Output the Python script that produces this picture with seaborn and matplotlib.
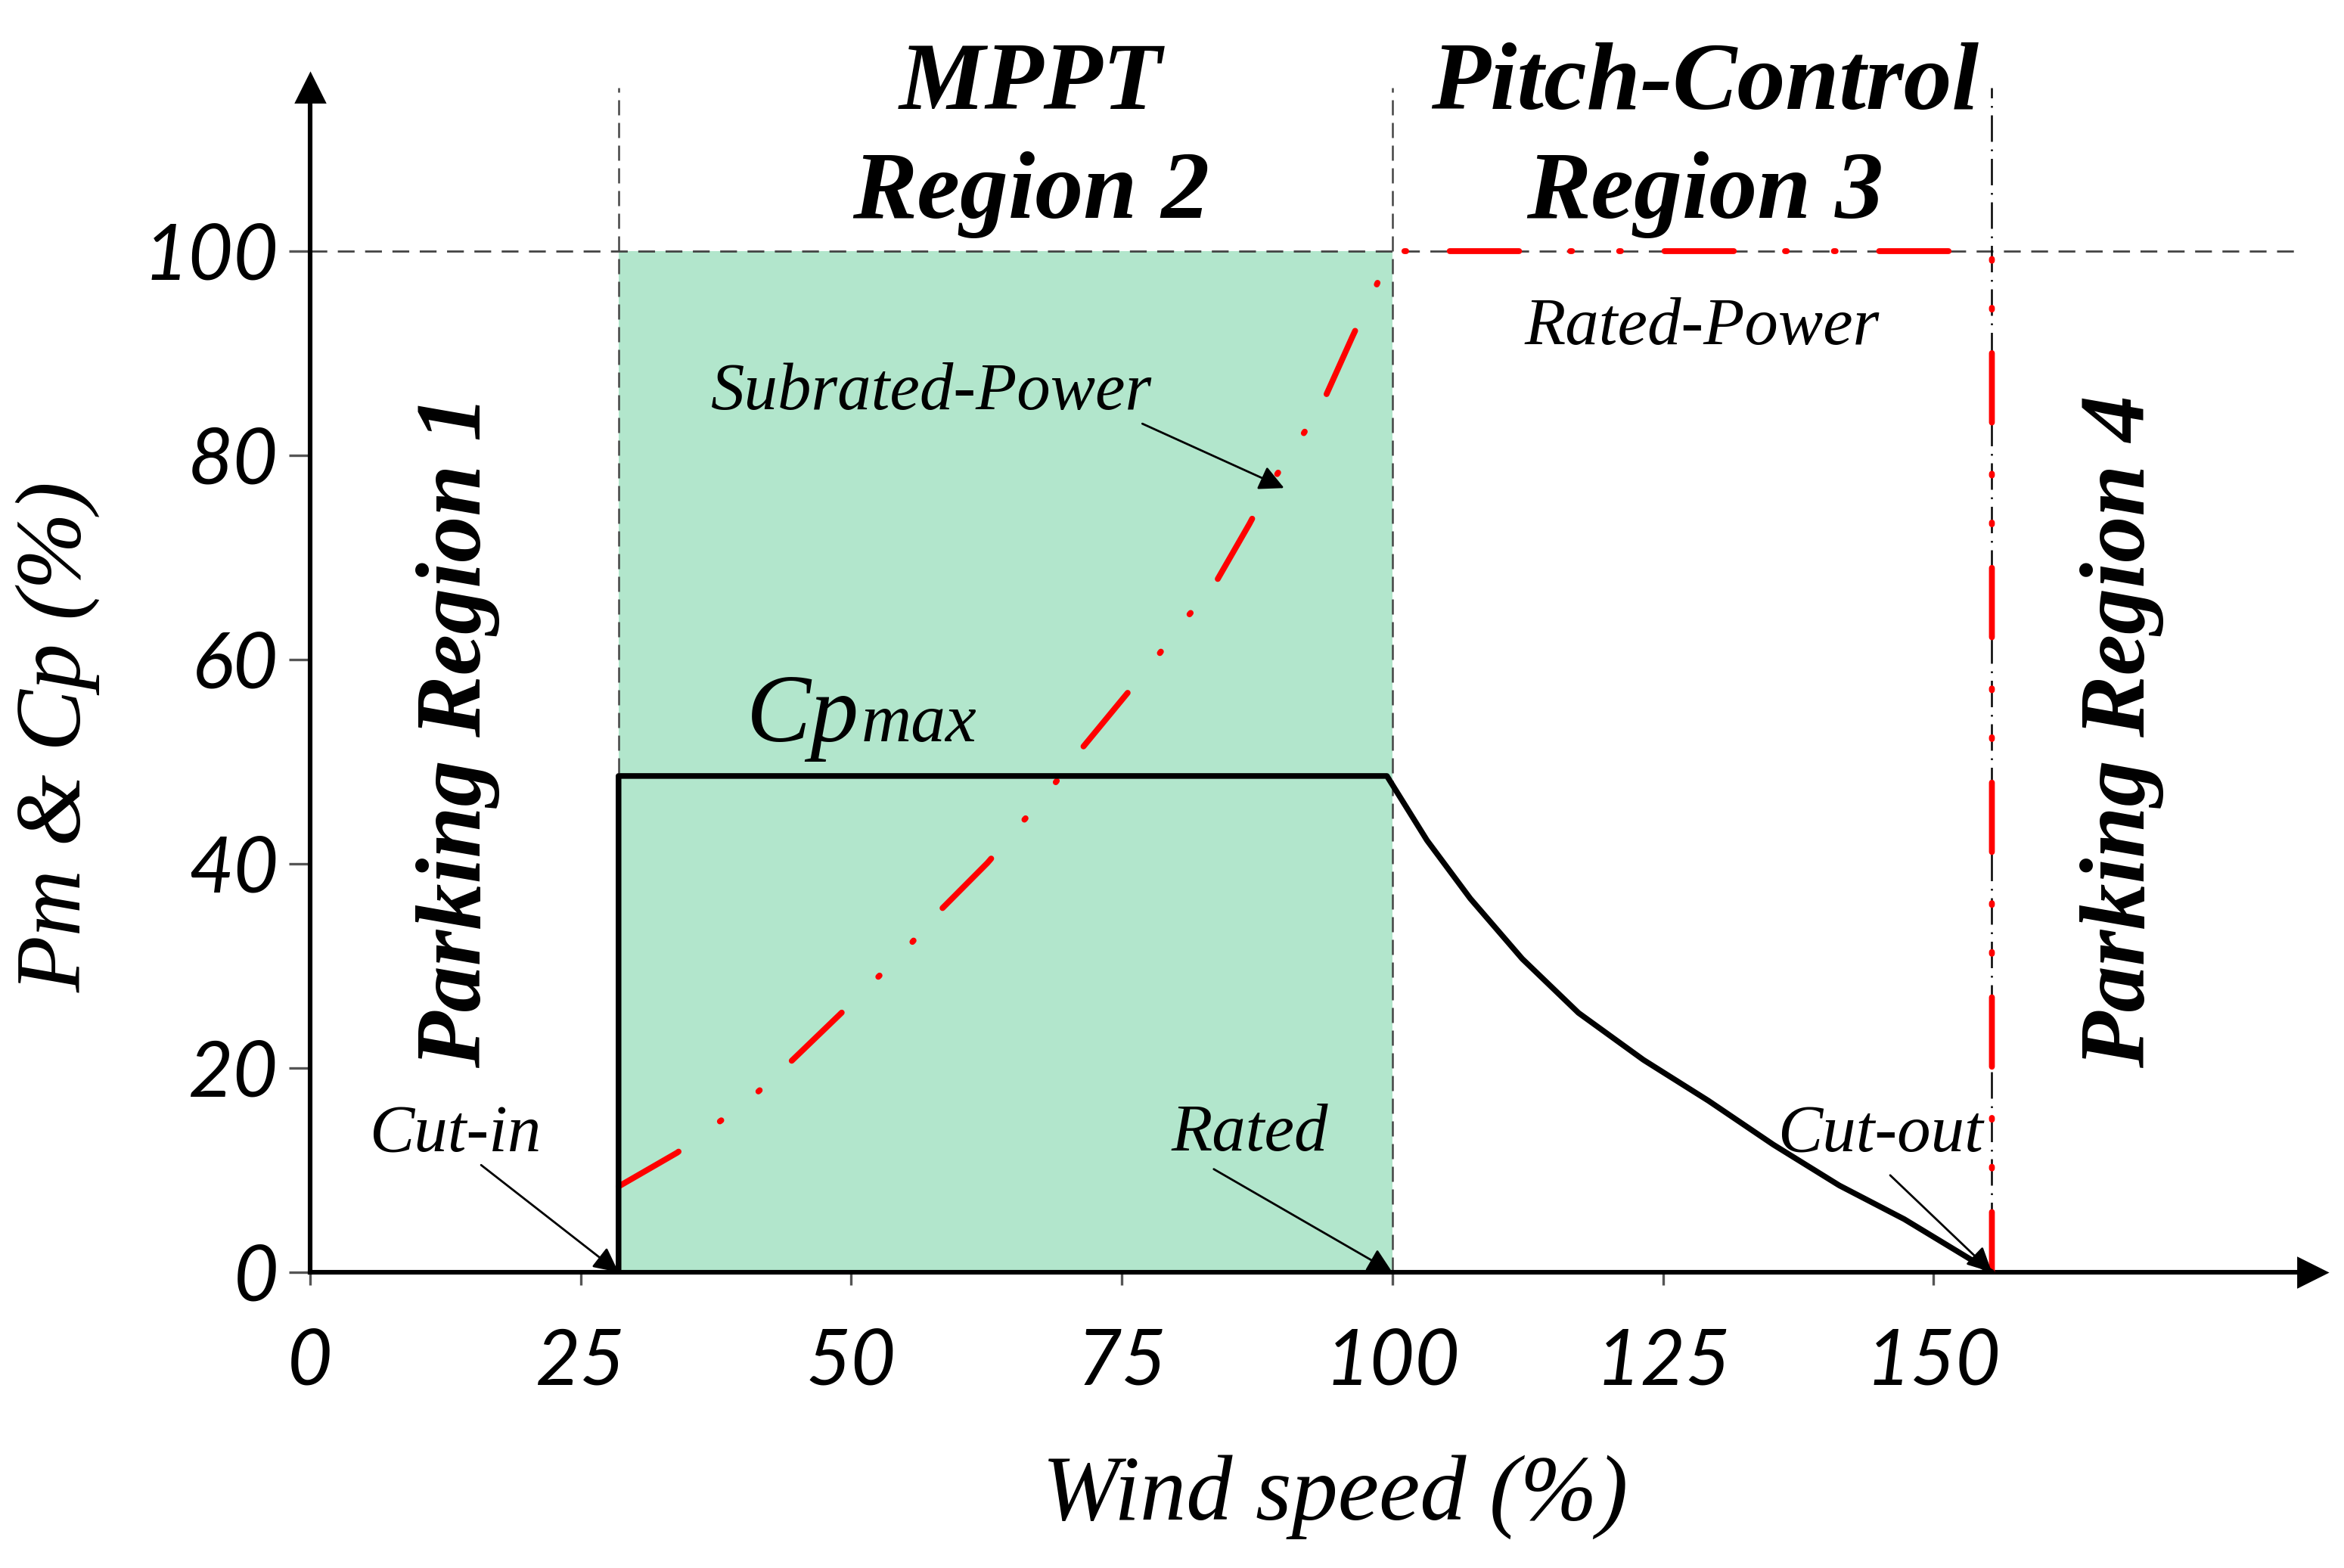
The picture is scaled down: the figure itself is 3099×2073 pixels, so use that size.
import numpy as np
import pandas as pd
import matplotlib
matplotlib.use("Agg")
import matplotlib.pyplot as plt
import seaborn as sns

# operating points (% of rated)
cut_in = 28.5
rated = 100
cut_out = 155.4
cp_max = 48.6
p_rated = 100

# mechanical power curve Pm (%)
pm_speed = [28.5, 33.9, 37.4, 41.0, 44.0, 48.9, 52.0, 55.2, 58.0, 62.6, 68.4, 71.0,
            75.2, 78.0, 80.6, 83.6, 86.8, 88.7, 91.3, 93.5, 96.3, 100, 155.4, 155.4]
pm_value = [8.4, 11.7, 14.4, 17.3, 20.2, 25.2, 28.4, 31.8, 35.2, 40.1, 47.3, 50.9,
            56.3, 59.9, 63.6, 67.4, 73.3, 77.1, 81.3, 85.0, 91.6, 100, 100, 0]

# power coefficient Cp (%)
cp_speed = [28.5, 28.5, 99.5, 103.2, 107.2, 112.0, 117.2, 123.2, 129.2,
            135.2, 141.3, 147.3, 155.4]
cp_value = [0, 48.6, 48.6, 42.3, 36.6, 30.7, 25.4, 20.8, 16.8,
            12.5, 8.5, 5.2, 0]

x_ticks = [0, 25, 50, 75, 100, 125, 150]
y_ticks = [0, 20, 40, 60, 80, 100]

sns.set_style("white")
plt.rcParams['font.family'] = ['Liberation Serif', 'DejaVu Serif']
plt.rcParams['text.color'] = 'black'
plt.rcParams['axes.labelcolor'] = 'black'
plt.rcParams['xtick.color'] = 'black'
plt.rcParams['ytick.color'] = 'black'

fig = plt.figure(figsize=(15.495, 10.365), dpi=200)
ax = fig.add_axes([410 / 3099, 391 / 2073, 2647 / 3099, 1566 / 2073])
ax.set_xlim(0, 185)
ax.set_ylim(0, 116)

# MPPT region shading
ax.fill_between([cut_in, rated], 0, p_rated, color='#b2e6cc', lw=0, zorder=0)

# guide lines
grey = '#444444'
ax.axhline(p_rated, xmin=0, xmax=183.8 / 185, color=grey, lw=1.0,
           dashes=(8, 5), zorder=1)
for xv in [cut_in, rated]:
    ax.axvline(xv, color=grey, lw=0.9, dashes=(8, 4), zorder=1)
ax.axvline(cut_out, color='black', lw=0.9, dashes=(14, 4, 1, 4), zorder=1)

# curves
sns.lineplot(x=cp_speed, y=cp_value, sort=False, estimator=None,
             color='black', lw=2.7, ax=ax, zorder=4)
ax.lines[-1].set_solid_joinstyle('round')
sns.lineplot(x=pm_speed, y=pm_value, sort=False, estimator=None,
             color='#ff0000', lw=2.8, ax=ax, zorder=3)
red = ax.lines[-1]
red.set_dashes([11.8, 8.7, 0.3, 8.0, 0.3, 7.4])
red.set_dash_capstyle('round')

# axes with arrow heads
sns.despine(ax=ax, top=True, right=True)
for side in ['left', 'bottom']:
    ax.spines[side].set_linewidth(2.2)
    ax.spines[side].set_color('black')
ax.plot(1, 0, '>k', ms=14, transform=ax.get_yaxis_transform(), clip_on=False)
ax.plot(0, 1, '^k', ms=14, transform=ax.get_xaxis_transform(), clip_on=False)

ax.set_xticks(x_ticks)
ax.set_yticks(y_ticks)
ax.tick_params(axis='y', length=10, width=1.2, color='#555555', pad=5,
               labelsize=37, left=True)
ax.tick_params(axis='x', length=6, width=1.2, color='#555555', pad=20,
               labelsize=37, bottom=True)
for lbl in ax.get_xticklabels() + ax.get_yticklabels():
    lbl.set_fontfamily(['Lato', 'DejaVu Sans'])
    lbl.set_fontstyle('italic')

ax.set_xlabel('Wind speed (%)', fontsize=44, fontstyle='italic')
ax.xaxis.set_label_coords(0.512, -0.19)
ax.xaxis.label.set_va('center')
ax.set_ylabel('Pm & Cp (%)', fontsize=44, fontstyle='italic')
ax.yaxis.set_label_coords(-0.126, 0.452)
ax.yaxis.label.set_va('center')
ax.yaxis.label.set_ha('center')

# region titles
head = dict(fontsize=46, fontweight='bold', fontstyle='italic',
            ha='center', va='center', clip_on=False)
ax.text(66.6, 116.2, 'MPPT', **head)
ax.text(66.6, 105.5, 'Region 2', **head)
ax.text(128.9, 116.2, 'Pitch-Control', **head)
ax.text(128.9, 105.5, 'Region 3', **head)
side = dict(fontsize=44, fontweight='bold', fontstyle='italic',
            ha='center', va='center', rotation=90)
ax.text(13.7, 53, 'Parking Region 1', **side)
ax.text(167.4, 53, 'Parking Region 4', **side)

# annotations
note = dict(fontsize=32, fontstyle='italic', ha='center', va='center')
ax.text(128.6, 92.5, 'Rated-Power', **note)
ax.text(57.4, 86.1, 'Subrated-Power', **note)
ax.text(13.4, 13.5, 'Cut-in', **note)
ax.text(86.8, 13.5, 'Rated', **note)
ax.text(145.1, 13.5, 'Cut-out', **note)
ax.text(40.3, 52, 'Cp', fontsize=46, fontstyle='italic', ha='left', va='baseline')
ax.text(50.9, 52, 'max', fontsize=33, fontstyle='italic', ha='left', va='baseline')

arrow = dict(arrowstyle='-|>', color='black', lw=1.0, mutation_scale=25,
             shrinkA=0, shrinkB=0)
ax.annotate('', xy=(cut_in, 0), xytext=(15.8, 10.5), arrowprops=arrow)
ax.annotate('', xy=(rated, 0), xytext=(83.5, 10.1), arrowprops=arrow)
ax.annotate('', xy=(cut_out, 0), xytext=(146.0, 9.5), arrowprops=arrow)
ax.annotate('', xy=(90.0, 76.8), xytext=(76.9, 83.1), arrowprops=arrow)

fig.savefig('out.png', dpi=200)
